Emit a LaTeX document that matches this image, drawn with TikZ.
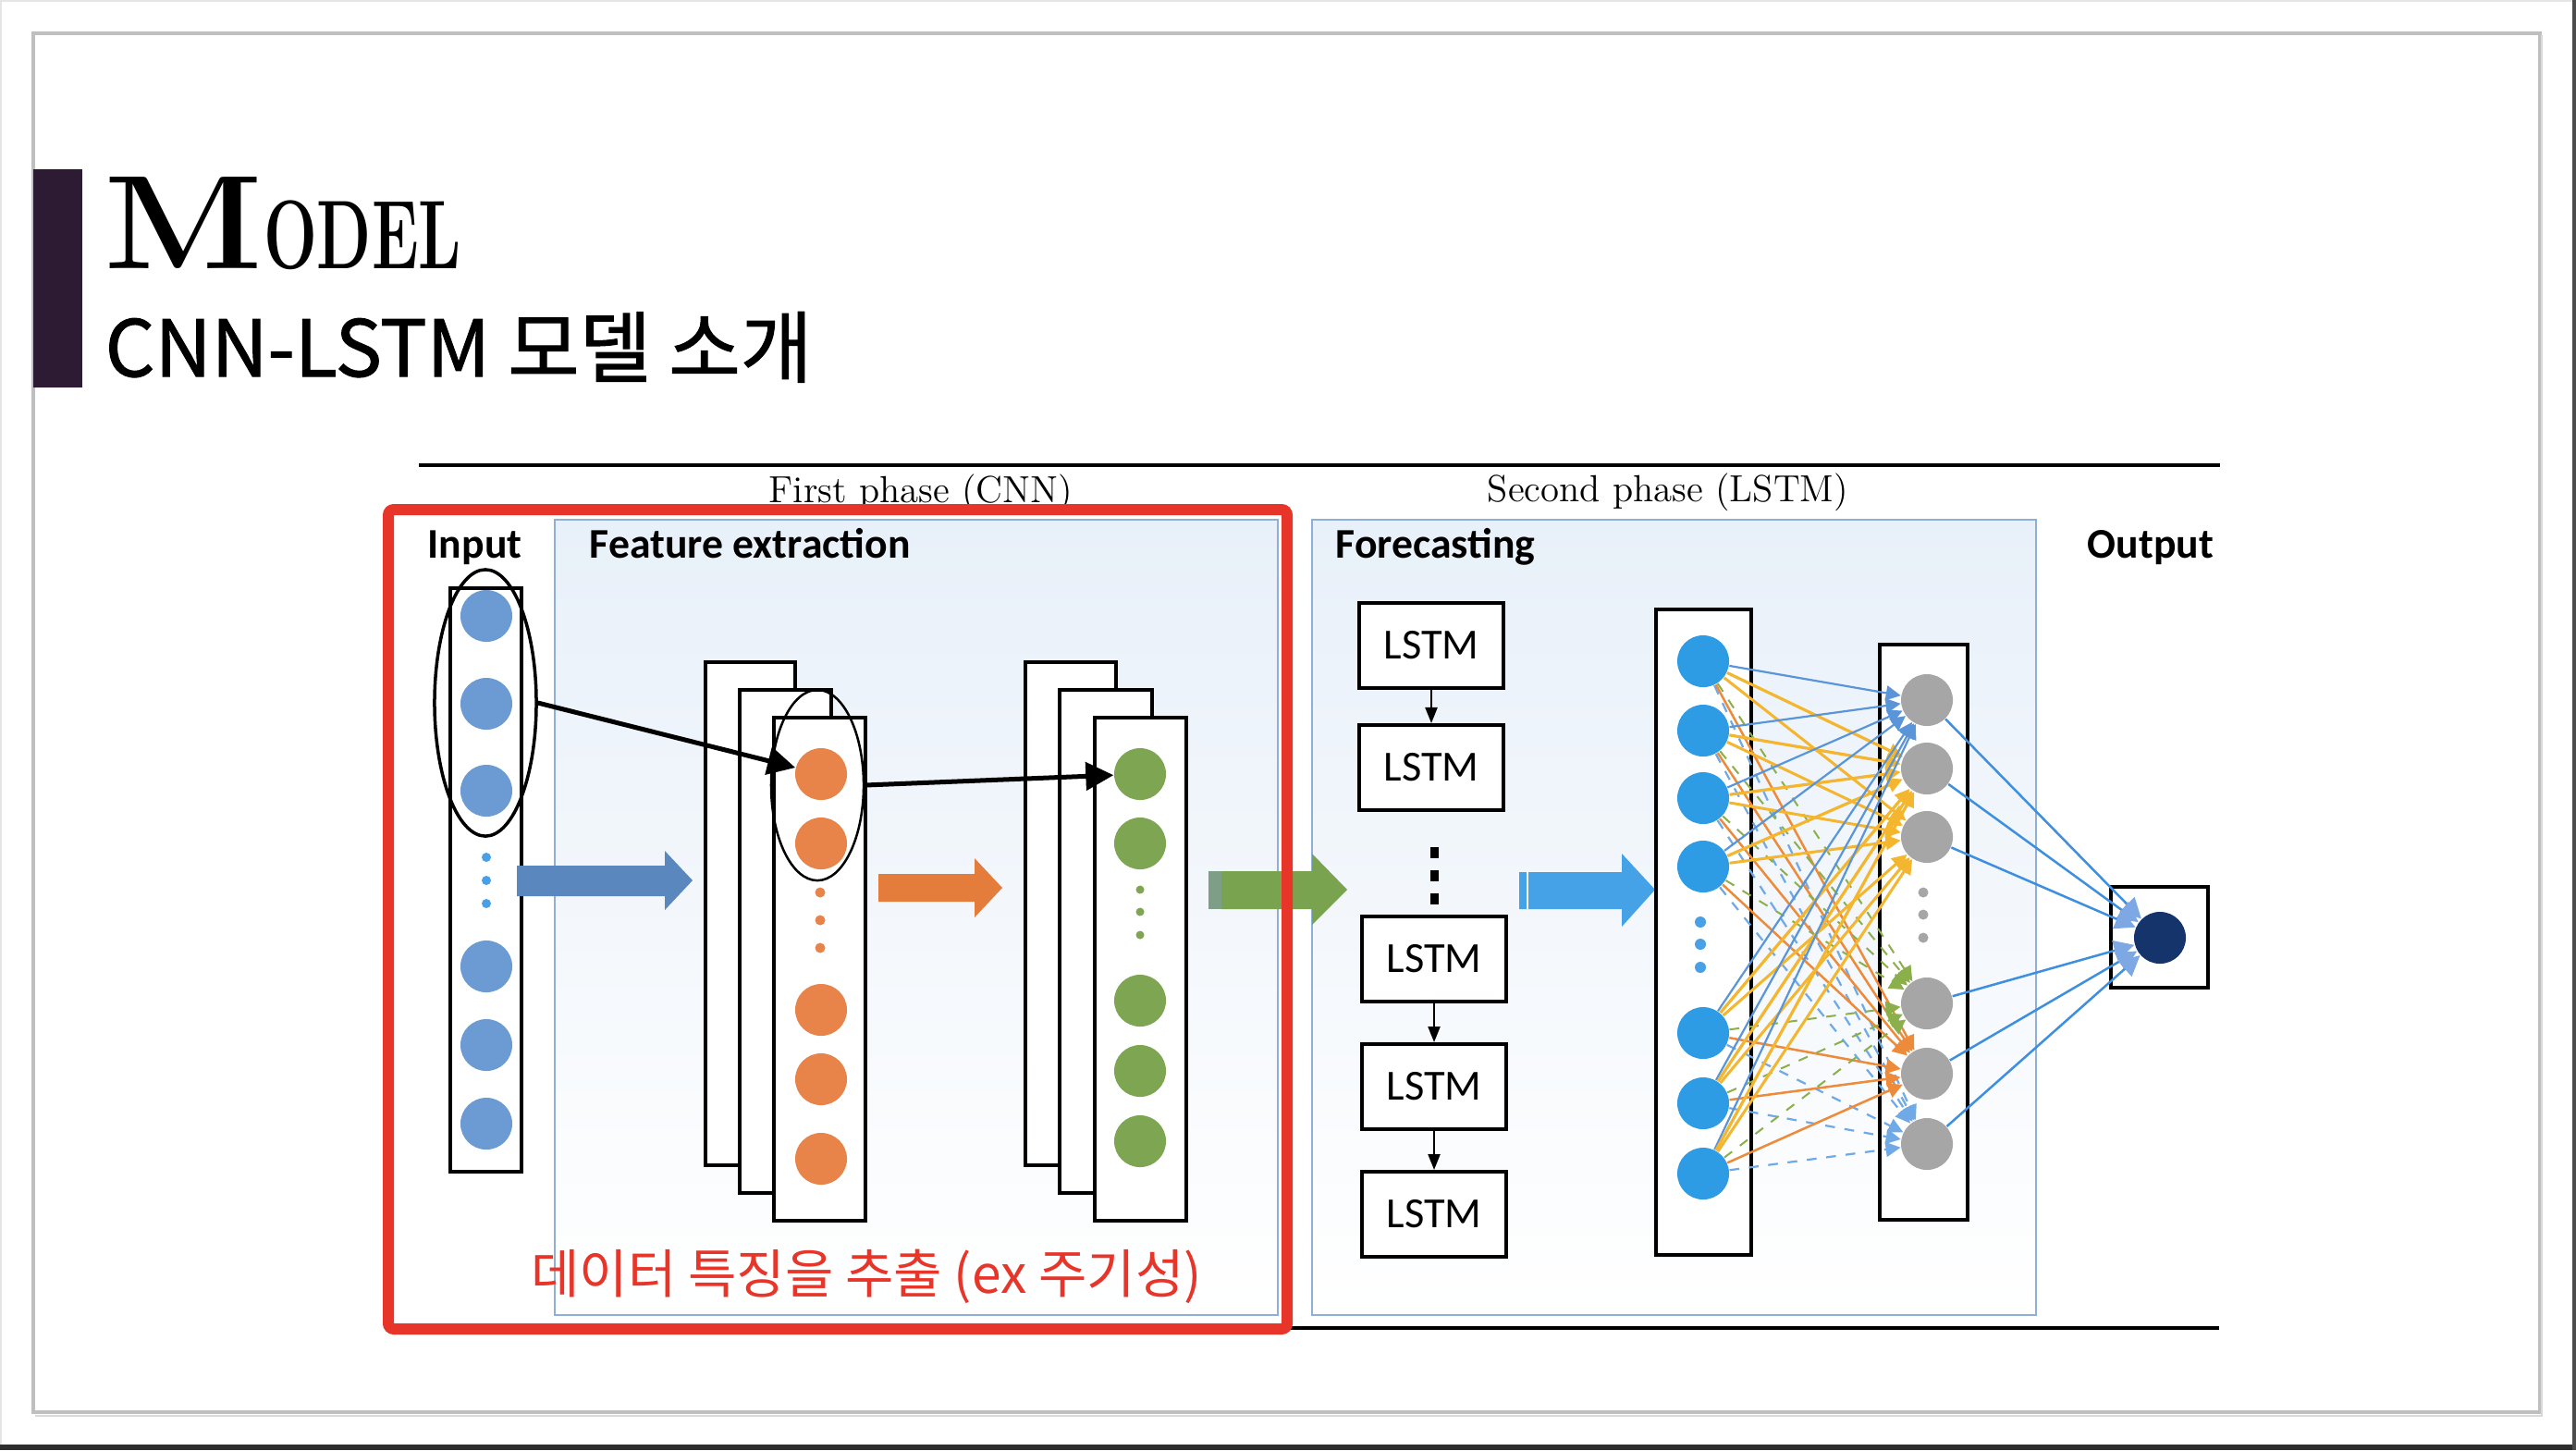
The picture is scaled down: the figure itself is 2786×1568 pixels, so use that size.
\documentclass[tikz,border=0pt]{standalone}
\usepackage{fontspec}
\usetikzlibrary{arrows.meta,shapes.geometric}
\newfontfamily\calib{Carlito}
\newfontfamily\kor{Noto Sans CJK KR}
\newfontfamily\korb[FakeBold=1.2]{Noto Sans CJK KR}
\definecolor{framegray}{HTML}{BFBFBF}
\definecolor{barpurple}{HTML}{2D1B33}
\definecolor{redbox}{HTML}{E8352A}
\definecolor{paneline}{HTML}{8FAFD8}
\definecolor{paneltop}{HTML}{E8F0F9}
\definecolor{inblue}{HTML}{6B9BD2}
\definecolor{dotblue}{HTML}{4AA0E6}
\definecolor{orangeN}{HTML}{E8834A}
\definecolor{greenN}{HTML}{7DA552}
\definecolor{hidblue}{HTML}{2E9BE5}
\definecolor{grayN}{HTML}{A6A6A6}
\definecolor{navyN}{HTML}{15346C}
\definecolor{arrBlue}{HTML}{5B87BF}
\definecolor{arrOrange}{HTML}{E47D3C}
\definecolor{arrGreen}{HTML}{7AA34F}
\definecolor{arrGreenL}{HTML}{7F9E88}
\definecolor{arrBlue2}{HTML}{45A2E6}
\definecolor{tBlue}{HTML}{5B95D9}
\definecolor{tYel}{HTML}{F5B62F}
\definecolor{tGrn}{HTML}{8BB04B}
\definecolor{tOra}{HTML}{EE8B3A}
\definecolor{tLBlue}{HTML}{6FA9E6}
\definecolor{outline}{HTML}{3F8FE0}
\definecolor{outhead}{HTML}{7DA8E3}
\begin{document}
\begin{tikzpicture}[x=0.01cm,y=-0.01cm,
  neur/.style={circle,inner sep=0pt,minimum size=0.56cm},
  smalldot/.style={circle,inner sep=0pt,minimum size=0.10cm},
  layerbox/.style={draw=black,fill=white,line width=0.035cm},
  lstmbox/.style={draw=black,fill=white,line width=0.04cm,inner sep=0pt,
    minimum width=1.56cm,minimum height=0.92cm,font=\calib\fontsize{13.2pt}{14pt}\selectfont},
  lbl/.style={anchor=base west,inner sep=0pt,font=\calib\bfseries\fontsize{13pt}{14pt}\selectfont},
  phase/.style={anchor=base,inner sep=0pt,font=\fontsize{11.6pt}{13pt}\selectfont},
  bigarr/.style={-{Triangle[length=0.3cm,width=0.3cm]},line width=0.05cm},
  lstmarr/.style={-{Triangle[length=0.17cm,width=0.13cm]},line width=0.022cm},
  tangle/.style={line width=0.022cm},
  outarr/.style={draw=outline,line width=0.025cm,-{Triangle[length=0.22cm,width=0.22cm,fill=outhead,color=outhead]}}
]
\useasboundingbox (0,0) rectangle (2786,1568);
\fill[white] (0,0) rectangle (2786,1568);
% outer edges
\draw[black!10,line width=0.02cm] (1,1568) -- (1,1) -- (2786,1);
\fill[black!82] (0,1562) rectangle (2786,1568);
\fill[black!70] (2782,0) rectangle (2786,1568);
% slide frame
\draw[framegray,line width=0.035cm] (36,36) rectangle (2747,1527);
\draw[black!15,line width=0.02cm] (38,1531) -- (2749,1531) -- (2749,38);
% title bar
\fill[barpurple] (36,183) rectangle (89,419);
\node[anchor=base west,inner sep=0pt,font=\bfseries] (ttl) at (112,290)
  {\scalebox{1.12}[1]{\fontsize{41pt}{41pt}\selectfont M}\scalebox{0.65}[1]{\fontsize{30pt}{30pt}\selectfont ODEL}};
\node[anchor=base west,inner sep=0pt,font=\korb\fontsize{24pt}{25pt}\selectfont] (sub) at (113,407) {CNN-LSTM 모델 소개};
% horizontal rules
\coordinate (rtl) at (453,503); \coordinate (rtr) at (2401,503);
\coordinate (rbl) at (453,1436); \coordinate (rbr) at (2400,1436);
\draw[line width=0.04cm] (rtl) -- (rtr);
\draw[line width=0.035cm] (rbl) -- (rbr);
\node[phase] (ph1) at (996,543) {First phase (CNN)};
\node[phase] (ph2) at (1804,542) {Second phase (LSTM)};
% panels
\shade[top color=paneltop,middle color=white,bottom color=white] (600,562) rectangle (1382,1422);
\draw[paneline,line width=0.015cm] (600,562) rectangle (1382,1422);
\shade[top color=paneltop,middle color=white,bottom color=white] (1419,562) rectangle (2202,1422);
\draw[paneline,line width=0.015cm] (1419,562) rectangle (2202,1422);
% labels
\node[lbl] (linput) at (462,603) {Input};
\node[lbl] (lfeat) at (637,603) {Feature extraction};
\node[lbl] (lfore) at (1444,603) {Forecasting};
\node[lbl] (lout) at (2257,603) {Output};
% input column
\draw[layerbox] (487,636) rectangle (564,1267);
\foreach \n/\y in {1/666,2/761,3/855,4/1045,5/1130,6/1215}
  \node[neur,fill=inblue] (i\n) at (526,\y) {};
\foreach \y in {927,952,977}
  \node[smalldot,fill=dotblue] at (526,\y) {};
\node[ellipse,draw=black,line width=0.035cm,inner sep=0pt,minimum width=1.10cm,minimum height=2.88cm] (inell) at (525,760) {};
% block arrow 1
\fill[arrBlue] (559,936) -- (719,936) -- (719,920) -- (749,952) -- (719,984) -- (719,969) -- (559,969) -- cycle;
% stack 1
\draw[layerbox] (763,716) rectangle (860,1260);
\draw[layerbox] (800,746) rectangle (899,1290);
\draw[layerbox] (837,776) rectangle (936,1320);
\foreach \n/\y in {1/837,2/912,3/1092,4/1167,5/1253}
  \node[neur,fill=orangeN] (o\n) at (888,\y) {};
\foreach \y in {965,995,1025}
  \node[smalldot,fill=orangeN,minimum size=0.11cm] at (887,\y) {};
\node[ellipse,draw=black,line width=0.025cm,inner sep=0pt,minimum width=1.00cm,minimum height=2.06cm] (oell) at (884,849) {};
% orange block arrow
\fill[arrOrange] (950,945) -- (1054,945) -- (1054,928) -- (1084,960) -- (1054,992) -- (1054,975) -- (950,975) -- cycle;
% stack 2
\draw[layerbox] (1109,716) rectangle (1207,1260);
\draw[layerbox] (1146,746) rectangle (1246,1290);
\draw[layerbox] (1184,776) rectangle (1283,1320);
\foreach \n/\y in {1/837,2/912,3/1082,4/1158,5/1234}
  \node[neur,fill=greenN] (gr\n) at (1233,\y) {};
\foreach \y in {962,986,1011}
  \node[smalldot,fill=greenN,minimum size=0.09cm] at (1233,\y) {};
% black arrows
\draw[bigarr] (inell.east) -- (o1);
\draw[bigarr] (oell.east) -- (gr1);
% green block arrow
\fill[arrGreenL] (1307,942) rectangle (1321,983);
\fill[arrGreen] (1321,942) -- (1419,942) -- (1419,923) -- (1457,962) -- (1419,1000) -- (1419,983) -- (1321,983) -- cycle;
% LSTM stack
\node[lstmbox] (L1) at (1548,698) {LSTM};
\node[lstmbox] (L2) at (1548,830) {LSTM};
\node[lstmbox] (L4) at (1551,1037) {LSTM};
\node[lstmbox] (L5) at (1551,1175) {LSTM};
\node[lstmbox] (L6) at (1551,1313) {LSTM};
\draw[lstmarr] (L1) -- (L2);
\draw[lstmarr] (L4) -- (L5);
\draw[lstmarr] (L5) -- (L6);
\foreach \y in {922,947,972}
  \fill[black] (1547,\y-6) rectangle (1556,\y+6);
% blue block arrow 2
\fill[arrBlue2] (1643,943) -- (1754,943) -- (1754,923) -- (1790,962) -- (1754,1002) -- (1754,983) -- (1643,983) -- cycle;
\draw[white,line width=0.02cm] (1652,943) -- (1652,983);
% hidden layers
\draw[layerbox] (1791,659) rectangle (1894,1357);
\draw[layerbox] (2033,697) rectangle (2128,1319);
\foreach \n/\y in {1/715,2/790,3/863,4/937,5/1117,6/1193,7/1269}
  \node[neur,fill=hidblue] (b\n) at (1842,\y) {};
\foreach \y in {997,1021,1046}
  \node[smalldot,fill=dotblue,minimum size=0.12cm] at (1839,\y) {};
\foreach \n/\y in {1/757,2/831,3/905,4/1085,5/1161,6/1237}
  \node[neur,fill=grayN] (g\n) at (2084,\y) {};
\foreach \y in {965,989,1014}
  \node[smalldot,fill=grayN,minimum size=0.11cm] at (2080,\y) {};
% tangled connections
\foreach \i in {1,...,7}{
  \foreach \j/\c/\s/\w in {1/tBlue/solid/0.022cm,4/tGrn/dashed/0.02cm,6/tLBlue/dashed/0.022cm,5/tOra/solid/0.025cm,3/tYel/solid/0.03cm,2/tYel/solid/0.032cm}{
    \draw[tangle,draw=\c,\s,line width=\w,-{Triangle[length=0.16cm,width=0.16cm,fill=\c]}] (b\i) -- (g\j);
  }
}
% output
\draw[layerbox] (2283,959) rectangle (2388,1068);
\node[neur,fill=navyN] (out) at (2336,1014) {};
\foreach \j in {1,...,6}
  \draw[outarr] (g\j) -- (out);
% red box
\draw[redbox,line width=0.12cm,rounded corners=0.06cm] (420,551) rectangle (1392,1437);
\node[anchor=base,inner sep=0pt,text=redbox,font=\kor\fontsize{16.2pt}{17pt}\selectfont] (kr) at (937,1398) {데이터 특징을 추출 (ex 주기성)};
\end{tikzpicture}
\end{document}
